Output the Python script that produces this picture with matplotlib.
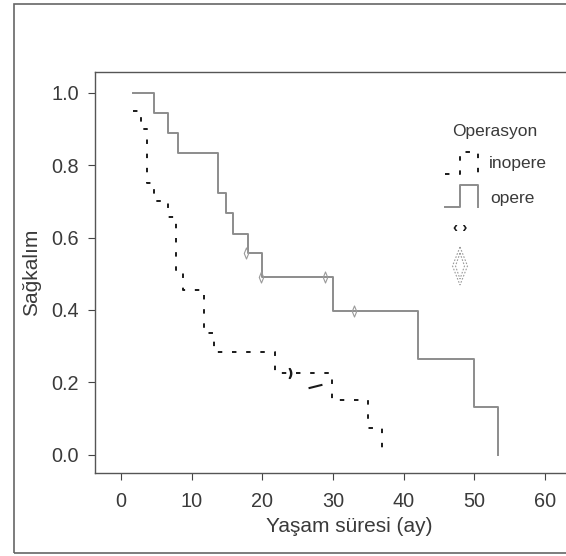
import matplotlib
matplotlib.use("Agg")
import matplotlib.pyplot as plt
from matplotlib.lines import Line2D
from matplotlib.patches import Rectangle, Polygon
from matplotlib.path import Path

plt.rcParams['font.family'] = ['Liberation Sans', 'DejaVu Sans']
plt.rcParams['lines.scale_dashes'] = False

# ---------------- data ----------------
opere_times = [1.7, 4.7, 6.7, 8.0, 13.7, 14.8, 15.8, 17.9, 19.9, 30.0, 42.0, 49.9, 53.3]
opere_surv = [1.0, 0.944, 0.889, 0.833, 0.722, 0.667, 0.611, 0.556, 0.492, 0.396, 0.264, 0.132, 0.0]
opere_cens_t = [17.7, 19.8, 28.9, 32.9]
opere_cens_s = [0.556, 0.492, 0.492, 0.396]

inopere_times = [1.7, 2.8, 3.6, 4.7, 6.7, 7.8, 8.7, 11.8, 13.2, 21.8, 29.9, 34.9, 36.9]
inopere_surv = [0.95, 0.90, 0.75, 0.70, 0.657, 0.51, 0.455, 0.337, 0.283, 0.225, 0.152, 0.075, 0.0]
inopere_cens_t = [23.9]
inopere_cens_s = [0.225]
inopere_mark_t = [27.4]
inopere_mark_s = [0.19]

x_ticks = [0, 10, 20, 30, 40, 50, 60]
y_ticks = [0.0, 0.2, 0.4, 0.6, 0.8, 1.0]
x_label = "Yaşam süresi (ay)"
y_label = "Sağkalım"
legend_title = "Operasyon"
group_names = ["inopere", "opere"]

# ---------------- layout ----------------
W, H = 566, 556
fig = plt.figure(figsize=(W / 100, H / 100), dpi=100)
fig.patch.set_facecolor('white')

def fx(x):
    return x / W

def fy(y):
    return 1 - y / H

# outer frame
fig.add_artist(Rectangle((fx(14), fy(553)), 2.0, fy(4) - fy(553), transform=fig.transFigure,
                         fill=False, edgecolor='#666666', linewidth=1.2))

ax_left, ax_right, ax_top, ax_bottom = 95, 603, 72, 473
ax = fig.add_axes([fx(ax_left), fy(ax_bottom), (ax_right - ax_left) / W, (ax_bottom - ax_top) / H])
ax.set_xlim(-3.69, 68.19)
ax.set_ylim(-0.0497, 1.0566)

spine_col = '#555555'
for s in ['left', 'bottom', 'top']:
    ax.spines[s].set_color(spine_col)
    ax.spines[s].set_linewidth(1.0)
ax.spines['right'].set_visible(False)

ax.set_xticks(x_ticks)
ax.set_xticklabels([str(v) for v in x_ticks])
ax.set_yticks(y_ticks)
ax.set_yticklabels([f"{v:.1f}" for v in y_ticks])
ax.tick_params(axis='both', direction='out', length=5, width=0.8, color='#444444',
               labelsize=14.3, labelcolor='#3a3a3a')
ax.tick_params(axis='x', pad=9)
ax.tick_params(axis='y', pad=6.5)

ax.set_xlabel(x_label, fontsize=15, color='#3a3a3a', va='center')
ax.xaxis.set_label_coords(0.5, (ax_bottom - 526) / (ax_bottom - ax_top))
ax.set_ylabel(y_label, fontsize=15, color='#3a3a3a', va='center')
ax.yaxis.set_label_coords((32 - ax_left) / (ax_right - ax_left), 0.5)

# ---------------- curves ----------------
opere_col = '#8c8c8c'
inop_col = '#1a1a1a'
dash = (0, (3.2, 7.0))

ax.step(opere_times, opere_surv, where='post', color=opere_col, linewidth=1.4)
ax.step(inopere_times, inopere_surv, where='post', color=inop_col, linewidth=1.4, linestyle=dash)

thin_diamond = Path([(0, 1), (0.4, 0), (0, -1), (-0.4, 0), (0, 1)],
                    [Path.MOVETO, Path.LINETO, Path.LINETO, Path.LINETO, Path.CLOSEPOLY])
ax.plot(opere_cens_t, opere_cens_s, linestyle='none', marker=thin_diamond, markersize=8,
        markerfacecolor='none', markeredgecolor='#9a9a9a', markeredgewidth=0.8)
ax.plot(inopere_cens_t, inopere_cens_s, linestyle='none', marker='$)$', markersize=7,
        color=inop_col)
slash = Path([(-1, -0.25), (1, 0.25)], [Path.MOVETO, Path.LINETO])
ax.plot(inopere_mark_t, inopere_mark_s, linestyle='none', marker=slash, markersize=10,
        markeredgecolor=inop_col, markeredgewidth=1.5)

# ---------------- legend (manual, figure coords) ----------------
txt_col = '#3a3a3a'
fig.text(fx(495), fy(136), legend_title, ha='center', va='baseline', fontsize=12.5, color=txt_col)
fig.text(fx(489), fy(168), group_names[0], ha='left', va='baseline', fontsize=12.5, color=txt_col)
fig.text(fx(490), fy(203), group_names[1], ha='left', va='baseline', fontsize=12.5, color=txt_col)

icon_x = [445, 460, 460, 478, 478]
ino_y = [174, 174, 152, 152, 174]
op_y = [207, 207, 185, 185, 207]
fig.add_artist(Line2D([fx(v) for v in icon_x], [fy(v) for v in ino_y], transform=fig.transFigure,
                      color=inop_col, linewidth=1.4, linestyle=dash))
fig.add_artist(Line2D([fx(v) for v in icon_x], [fy(v) for v in op_y], transform=fig.transFigure,
                      color=opere_col, linewidth=1.4))

fig.text(fx(460), fy(228), '‹ ›', ha='center', va='center', fontsize=11, fontweight='bold',
         color=inop_col)

outer = [(460, 247), (467.5, 266), (460, 285), (452.5, 266)]
inner = [(460, 253), (464.5, 266), (460, 279), (455.5, 266)]
for poly in (outer, inner):
    fig.add_artist(Polygon([(fx(a), fy(b)) for a, b in poly], closed=True, fill=False,
                           transform=fig.transFigure, edgecolor='#9a9a9a', linewidth=0.8,
                           linestyle=(0, (1.2, 1.2))))

fig.savefig('out.png', dpi=100, facecolor='white')
